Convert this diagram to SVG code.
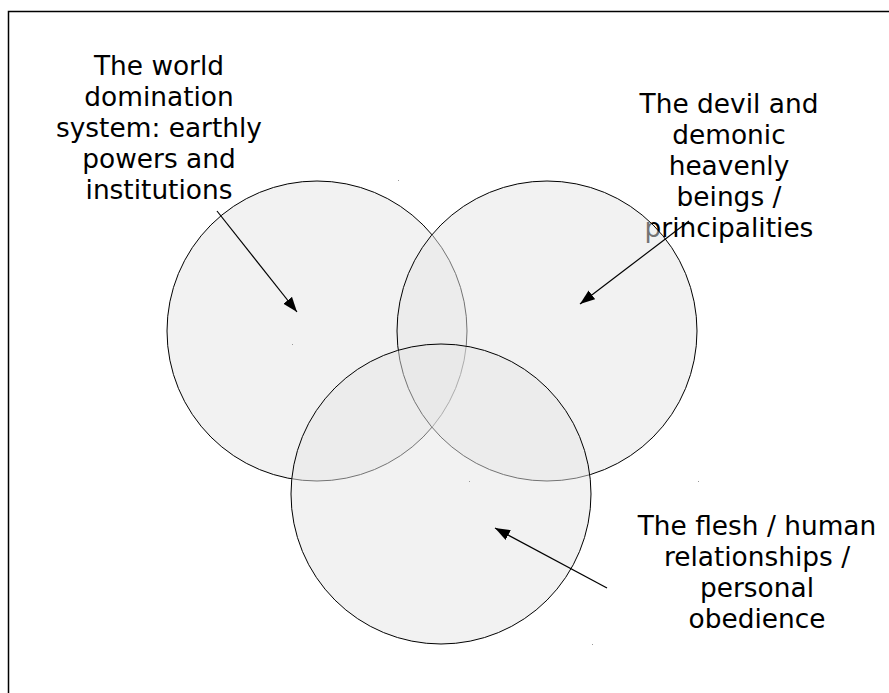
<svg xmlns="http://www.w3.org/2000/svg" width="889" height="693" viewBox="0 0 889 693">
<style>
.lbl{font-family:"DejaVu Sans",sans-serif;font-size:26.4px;fill:#000;text-anchor:middle}
.c{fill:#e6e6e6;fill-opacity:0.5;stroke:#000;stroke-width:1}
.a{stroke:#000;stroke-width:1.2;fill:none;marker-end:url(#ah)}
.dot{fill:#999}
</style>
<defs>
<marker id="ah" markerUnits="userSpaceOnUse" markerWidth="16" markerHeight="12" refX="15" refY="5.5" orient="auto">
<path d="M0,0 L15,5.5 L0,11 Z" fill="#000"/>
</marker>
</defs>
<rect x="0" y="0" width="889" height="693" fill="#fff"/>
<path d="M8.5,693 V11.5 H889" fill="none" stroke="#000" stroke-width="1.5"/>
<g id="label-world">
<text class="lbl" x="159" y="75">The world</text>
<text class="lbl" x="159" y="106">domination</text>
<text class="lbl" x="159" y="137">system: earthly</text>
<text class="lbl" x="159" y="168">powers and</text>
<text class="lbl" x="159" y="199">institutions</text>
</g>
<g id="label-devil">
<text class="lbl" x="729" y="113">The devil and</text>
<text class="lbl" x="729" y="144">demonic</text>
<text class="lbl" x="729" y="175">heavenly</text>
<text class="lbl" x="729" y="206">beings /</text>
<text class="lbl" x="729" y="237">principalities</text>
</g>
<g id="label-flesh">
<text class="lbl" x="757" y="535">The flesh / human</text>
<text class="lbl" x="757" y="566">relationships /</text>
<text class="lbl" x="757" y="597">personal</text>
<text class="lbl" x="757" y="628">obedience</text>
</g>
<g id="circle-world"><circle class="c" cx="317" cy="331" r="150"/></g>
<g id="circle-devil"><circle class="c" cx="547" cy="331" r="150"/></g>
<g id="circle-flesh"><circle class="c" cx="441" cy="494" r="150"/></g>
<g id="connectors">
<line class="a" x1="217" y1="211" x2="297" y2="312"/>
<line class="a" x1="689" y1="221" x2="580" y2="304"/>
<line class="a" x1="607" y1="588" x2="495" y2="528"/>
</g>
<g id="dots">
<rect class="dot" x="398" y="180" width="1" height="1"/>
<rect class="dot" x="292" y="344" width="1" height="1"/>
<rect class="dot" x="469" y="481" width="1" height="1"/>
<rect class="dot" x="698" y="481" width="1" height="1"/>
<rect class="dot" x="592" y="644" width="1" height="1"/>
</g>
</svg>
